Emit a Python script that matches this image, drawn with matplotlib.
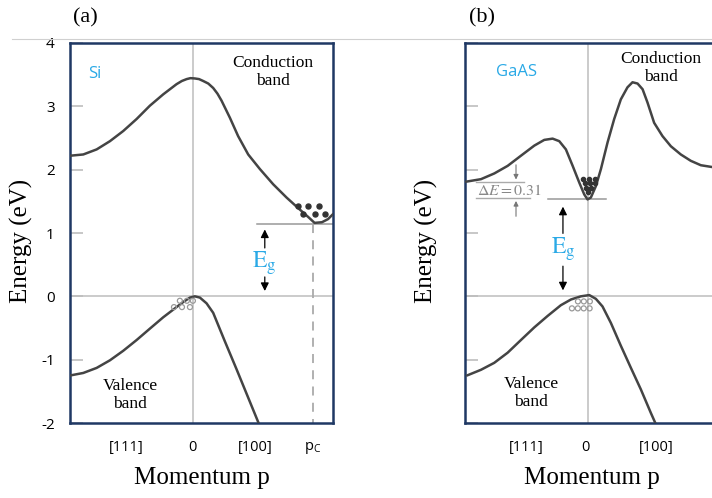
import matplotlib
matplotlib.use('Agg')
import matplotlib.pyplot as plt
from matplotlib.lines import Line2D

plt.rcParams['mathtext.fontset'] = 'stix'
plt.rcParams['font.family'] = ['Open Sans', 'DejaVu Sans']

# --- data (x: momentum in arbitrary units, 0 at centre; y: energy in eV)
si_cb_x = [-1.0, -0.892, -0.783, -0.675, -0.567, -0.458, -0.350, -0.241, -0.133, -0.090, -0.051,
           -0.020, 0.016, 0.050, 0.084, 0.125, 0.165, 0.200, 0.233, 0.301, 0.368, 0.450, 0.545,
           0.653, 0.762, 0.870, 0.940, 0.990, 1.050, 1.100, 1.141]
si_cb_y = [2.22, 2.24, 2.32, 2.45, 2.61, 2.80, 3.01, 3.19, 3.35, 3.40, 3.43,
           3.445, 3.44, 3.43, 3.40, 3.36, 3.29, 3.20, 3.09, 2.82, 2.53, 2.24, 2.01,
           1.77, 1.56, 1.37, 1.25, 1.16, 1.17, 1.22, 1.30]
si_vb_x = [-1.0, -0.892, -0.783, -0.675, -0.567, -0.458, -0.350, -0.241, -0.160, -0.079, -0.024,
           0.016, 0.057, 0.111, 0.165, 0.260, 0.355, 0.450, 0.545]
si_vb_y = [-1.25, -1.21, -1.13, -1.01, -0.86, -0.69, -0.51, -0.33, -0.21, -0.09, -0.02,
           0.0, -0.02, -0.11, -0.26, -0.71, -1.15, -1.60, -2.05]

gaas_cb_x = [-0.992, -0.870, -0.762, -0.653, -0.545, -0.436, -0.355, -0.287, -0.233, -0.179,
             -0.124, -0.071, -0.030, -0.003, 0.024, 0.065, 0.106, 0.160, 0.214, 0.268, 0.322,
             0.363, 0.404, 0.445, 0.485, 0.539, 0.607, 0.675, 0.756, 0.837, 0.919, 1.016, 1.14]
gaas_cb_y = [1.81, 1.85, 1.94, 2.06, 2.22, 2.38, 2.47, 2.49, 2.45, 2.32,
             2.06, 1.80, 1.61, 1.53, 1.56, 1.74, 2.01, 2.43, 2.80, 3.11, 3.30,
             3.38, 3.36, 3.27, 3.06, 2.74, 2.53, 2.37, 2.24, 2.14, 2.07, 2.04, 2.03]
gaas_vb_x = [-0.984, -0.870, -0.762, -0.653, -0.545, -0.436, -0.328, -0.220, -0.138, -0.057,
             0.011, 0.065, 0.119, 0.187, 0.268, 0.350, 0.431, 0.512, 0.560]
gaas_vb_y = [-1.25, -1.16, -1.05, -0.89, -0.69, -0.49, -0.31, -0.14, -0.05, 0.0,
             0.02, -0.04, -0.16, -0.42, -0.78, -1.13, -1.47, -1.84, -2.05]

si_ec = 1.14
si_pc = 0.976
gaas_ec = 1.53
gaas_de_top = 1.80

si_ticks = [-0.54, 0.0, 0.51, 0.976]
si_ticklabels = ['[111]', '0', '[100]', r'p$_{\mathregular{C}}$']
gaas_ticks = [-0.504, -0.016, 0.553]
gaas_ticklabels = ['[111]', '0', '[100]']
y_ticks = [-2, -1, 0, 1, 2, 3, 4]
y_ticklabels = ['-2', '-1', '0', '1', '2', '3', '4']

si_electrons_x = [0.854, 0.935, 1.024, 0.894, 0.992, 1.073]
si_electrons_y = [1.42, 1.42, 1.42, 1.30, 1.30, 1.30]
si_holes_x = [-0.106, -0.049, 0.0, -0.154, -0.089, -0.024]
si_holes_y = [-0.07, -0.07, -0.07, -0.17, -0.17, -0.17]
gaas_electrons_x = [-0.037, 0.012, 0.061, -0.024, 0.016, 0.057, -0.012, 0.028, 0.004]
gaas_electrons_y = [1.86, 1.86, 1.86, 1.79, 1.79, 1.79, 1.71, 1.71, 1.64]
gaas_holes_x = [-0.081, -0.033, 0.016, -0.130, -0.082, -0.034, 0.014]
gaas_holes_y = [-0.08, -0.08, -0.08, -0.19, -0.19, -0.19, -0.19]

W, H = 712, 498
curve_c = '#444444'
guide_c = '#bdbdbd'
frame_c = '#1f3864'
blue = '#2aa9e6'
serif = ['Liberation Serif', 'DejaVu Serif']

fig = plt.figure(figsize=(W / 100, H / 100), dpi=100)
ax_w = 263 / W
ax_h = 380 / H
ax_b = (H - 423) / H
ax1 = fig.add_axes([70 / W, ax_b, ax_w, ax_h])
ax2 = fig.add_axes([465 / W, ax_b, ax_w, ax_h])

for ax in (ax1, ax2):
    ax.set_xlim(-1.0, 1.14)
    ax.set_ylim(-2, 4)
    for s in ax.spines.values():
        s.set_color(frame_c)
        s.set_linewidth(1.8)
    ax.axhline(0, color=guide_c, lw=1.1, zorder=1)
    ax.axvline(0, color=guide_c, lw=1.1, zorder=1)
    ax.set_yticks(y_ticks)
    ax.tick_params(axis='y', direction='in', length=9, width=1.2, color=guide_c,
                   pad=11, labelsize=11)
    ax.tick_params(axis='x', length=0, pad=12, labelsize=10.5)
    ax.set_xlabel('Momentum p', family=serif, fontsize=18)
    ax.set_ylabel('Energy (eV)', family=serif, fontsize=18)

ax1.set_yticklabels(y_ticklabels)
ax2.set_yticklabels([])
ax1.set_xticks(si_ticks, si_ticklabels)
ax2.set_xticks(gaas_ticks, gaas_ticklabels)
ax1.xaxis.set_label_coords(0.5, -0.115)
ax2.xaxis.set_label_coords(0.483, -0.115)
ax1.yaxis.set_label_coords(-0.141, 0.48)
ax2.yaxis.set_label_coords(-0.103, 0.48)

line_kw = dict(color=curve_c, lw=1.8, zorder=3, solid_joinstyle='round', solid_capstyle='round')

# --- panel (a): Si
ax1.plot(si_cb_x, si_cb_y, **line_kw)
ax1.plot(si_vb_x, si_vb_y, **line_kw)
ax1.plot([0.52, 1.14], [si_ec, si_ec], color='#999999', lw=1.1, zorder=2)
ax1.plot([si_pc, si_pc], [si_ec, -2], color='#aaaaaa', lw=1.3, ls=(0, (5, 4)), zorder=2)
ax1.scatter(si_electrons_x, si_electrons_y, s=13, color='#333333', zorder=4)
ax1.scatter(si_holes_x, si_holes_y, s=13, facecolor='none', edgecolor='#999999',
            lw=0.9, zorder=4)
ax1.annotate('', xy=(0.585, si_ec - 0.04), xytext=(0.585, 0.72),
             arrowprops=dict(arrowstyle='-|>', color='black', lw=0.9, mutation_scale=12))
ax1.annotate('', xy=(0.585, 0.04), xytext=(0.585, 0.35),
             arrowprops=dict(arrowstyle='-|>', color='black', lw=0.9, mutation_scale=12))
ax1.text(0.585, 0.53, r'$\mathrm{E_g}$', color=blue, fontsize=17, ha='center', va='center')
ax1.text(-0.797, 3.51, 'Si', color=blue, fontsize=12, ha='center', va='center')
ax1.text(0.65, 3.54, 'Conduction\nband', family=serif, fontsize=12.5, ha='center',
         va='center', linespacing=1.15)
ax1.text(-0.512, -1.56, 'Valence\nband', family=serif, fontsize=12.5, ha='center',
         va='center', linespacing=1.15)

# --- panel (b): GaAs
ax2.plot(gaas_cb_x, gaas_cb_y, **line_kw)
ax2.plot(gaas_vb_x, gaas_vb_y, **line_kw)
ax2.plot([-0.325, 0.146], [gaas_ec, gaas_ec], color='#999999', lw=1.1, zorder=2)
ax2.plot([-0.91, -0.52], [gaas_de_top, gaas_de_top], color='#aaaaaa', lw=1.0, zorder=2)
ax2.plot([-0.91, -0.47], [gaas_ec + 0.02, gaas_ec + 0.02], color='#aaaaaa', lw=1.0, zorder=2)
ax2.annotate('', xy=(-0.585, gaas_de_top), xytext=(-0.585, 2.12),
             arrowprops=dict(arrowstyle='-|>', color='#777777', lw=0.8, mutation_scale=7))
ax2.annotate('', xy=(-0.585, gaas_ec + 0.02), xytext=(-0.585, 1.22),
             arrowprops=dict(arrowstyle='-|>', color='#777777', lw=0.8, mutation_scale=7))
ax2.text(-0.64, 1.66, r'$\Delta E = 0.31$', color='#888888', fontsize=11.5,
         ha='center', va='center')
ax2.scatter(gaas_electrons_x, gaas_electrons_y, s=9, color='#333333', zorder=4)
ax2.scatter(gaas_holes_x, gaas_holes_y, s=13, facecolor='none', edgecolor='#999999',
            lw=0.9, zorder=4)
ax2.annotate('', xy=(-0.203, gaas_ec - 0.07), xytext=(-0.203, 0.95),
             arrowprops=dict(arrowstyle='-|>', color='black', lw=0.9, mutation_scale=12))
ax2.annotate('', xy=(-0.203, 0.05), xytext=(-0.203, 0.52),
             arrowprops=dict(arrowstyle='-|>', color='black', lw=0.9, mutation_scale=12))
ax2.text(-0.203, 0.74, r'$\mathrm{E_g}$', color=blue, fontsize=17, ha='center', va='center')
ax2.text(-0.585, 3.54, 'GaAS', color=blue, fontsize=12, ha='center', va='center')
ax2.text(0.593, 3.60, 'Conduction\nband', family=serif, fontsize=12.5, ha='center',
         va='center', linespacing=1.15)
ax2.text(-0.463, -1.53, 'Valence\nband', family=serif, fontsize=12.5, ha='center',
         va='center', linespacing=1.15)

# panel letters and the thin separator line from the screenshot
fig.text(85 / W, 1 - 18 / H, '(a)', family=serif, fontsize=16, ha='center', va='center')
fig.text(482 / W, 1 - 18 / H, '(b)', family=serif, fontsize=16, ha='center', va='center')
fig.add_artist(Line2D([12 / W, 1.0], [1 - 39 / H, 1 - 39 / H], color='#d0d0d0', lw=0.8))

fig.savefig('out.png', dpi=100)
